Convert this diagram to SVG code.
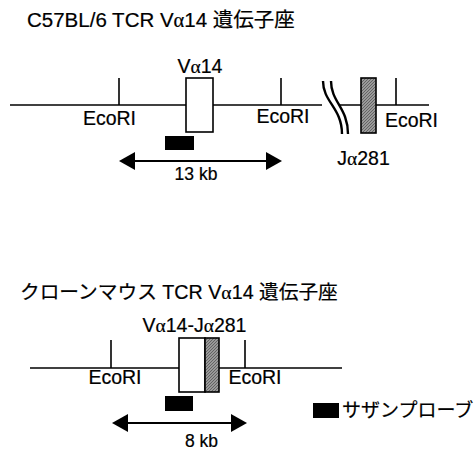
<svg xmlns="http://www.w3.org/2000/svg" width="476" height="451" viewBox="0 0 476 451">
<defs>
<style>
.ln{stroke:#000;stroke-width:1.6;fill:none}
.brk{stroke:#000;stroke-width:2.4;fill:none}
.box{fill:#fff;stroke:#000;stroke-width:1.6}
.jbox{fill:url(#hatch);stroke:#000;stroke-width:1.6}
.probe{fill:#000}
.t{font-family:"Liberation Sans","Noto Sans CJK JP",sans-serif;fill:#000;stroke:#000;stroke-width:0.2}
.lbl{font-size:19.5px}
.g{font-family:"Liberation Serif","DejaVu Serif",serif}
.arr{stroke:#000;stroke-width:2;fill:none;marker-start:url(#ah);marker-end:url(#ah)}
</style>
<pattern id="hatch" width="3" height="3" patternUnits="userSpaceOnUse">
<rect width="3" height="3" fill="#9a9a9a"/>
<path d="M0,3 L3,0" stroke="#555" stroke-width="0.8"/>
</pattern>
<marker id="ah" markerUnits="userSpaceOnUse" markerWidth="16" markerHeight="18" refX="8" refY="9" orient="auto-start-reverse">
<path d="M0,0 L16,9 L0,18 z" fill="#000"/>
</marker>
</defs>

<!-- Titles -->
<g id="title1">
<text class="t" font-size="20.5" x="27" y="27">C57BL/6 TCR V<tspan class="g">α</tspan>14 遺伝子座</text>
</g>
<g id="title2">
<text class="t" font-size="19.7" x="20" y="299">クローンマウス TCR V<tspan class="g">α</tspan>14 遺伝子座</text>
</g>

<!-- Connectors / lines -->
<g id="connectors">
<line class="ln" x1="10" y1="105" x2="322" y2="105"/>
<line class="ln" x1="340" y1="105" x2="429" y2="105"/>
<line class="ln" x1="119" y1="78" x2="119" y2="105"/>
<line class="ln" x1="281" y1="78" x2="281" y2="105"/>
<line class="ln" x1="396" y1="78" x2="396" y2="105"/>
<path class="brk" d="M323,81 C323,102 342,108 342,134"/>
<path class="brk" d="M331,81 C331,102 348,108 348,134"/>
<line class="arr" x1="127" y1="161" x2="274" y2="161"/>

<line class="ln" x1="30" y1="368" x2="342" y2="368"/>
<line class="ln" x1="111" y1="340" x2="111" y2="368"/>
<line class="ln" x1="245" y1="340" x2="245" y2="368"/>
<line class="arr" x1="120" y1="423" x2="239" y2="423"/>
</g>

<!-- Top locus nodes -->
<g id="va14">
<rect class="box" x="186" y="78" width="27" height="54"/>
<text class="t lbl" x="200" y="73" text-anchor="middle">V<tspan class="g">α</tspan>14</text>
</g>
<g id="ja281">
<rect class="jbox" x="361" y="78" width="15" height="55"/>
<text class="t lbl" x="363.5" y="165" text-anchor="middle">J<tspan class="g">α</tspan>281</text>
</g>
<g id="probe1"><rect class="probe" x="165" y="136" width="29" height="14"/></g>
<g id="ecori1"><text class="t lbl" x="109.5" y="125" text-anchor="middle">EcoRI</text></g>
<g id="ecori2"><text class="t lbl" x="283" y="123" text-anchor="middle">EcoRI</text></g>
<g id="ecori3"><text class="t lbl" x="411.5" y="127" text-anchor="middle">EcoRI</text></g>
<g id="kb13"><text class="t" font-size="17.5" x="196" y="180" text-anchor="middle">13 kb</text></g>

<!-- Bottom locus nodes -->
<g id="vj">
<rect class="box" x="179" y="338" width="26" height="54"/>
<rect class="jbox" x="205" y="338" width="14" height="54"/>
<text class="t lbl" x="194.5" y="332" text-anchor="middle">V<tspan class="g">α</tspan>14-J<tspan class="g">α</tspan>281</text>
</g>
<g id="probe2"><rect class="probe" x="165" y="396" width="28" height="15"/></g>
<g id="ecori4"><text class="t lbl" x="115" y="384" text-anchor="middle">EcoRI</text></g>
<g id="ecori5"><text class="t lbl" x="255" y="384" text-anchor="middle">EcoRI</text></g>
<g id="kb8"><text class="t" font-size="17.5" x="201.5" y="447" text-anchor="middle">8 kb</text></g>

<!-- Legend -->
<g id="legend">
<rect class="probe" x="313" y="403" width="26" height="15"/>
<text class="t" font-size="19" x="342" y="417">サザンプローブ</text>
</g>
</svg>
